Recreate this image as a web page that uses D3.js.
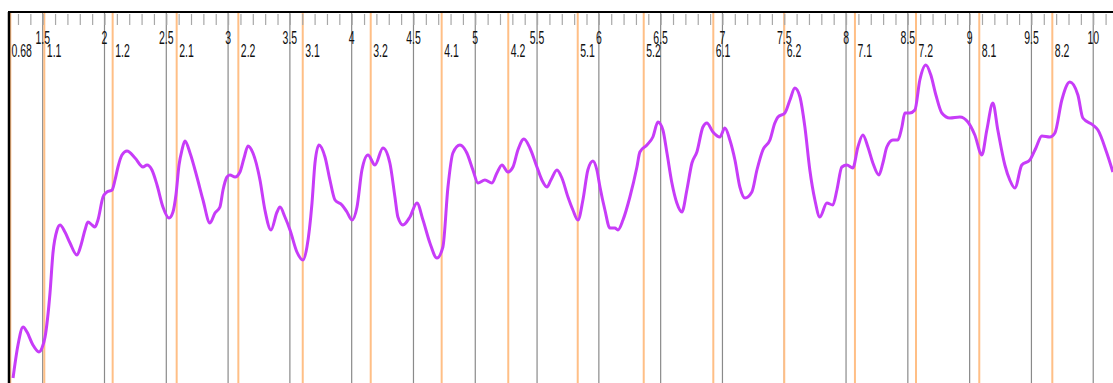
<!DOCTYPE html>
<html>
<head>
<meta charset="utf-8">
<script src="https://cdn.jsdelivr.net/npm/d3@7/dist/d3.min.js"></script>
<style>
  html, body { margin: 0; padding: 0; background: #fff; }
  svg { display: block; }
  text { font-family: "Liberation Sans", Arial, sans-serif; }
</style>
</head>
<body>
<svg id="chart" width="1113" height="383"></svg>
<script>
// Time axis (s): labelled grid lines
const gridTimes  = [1.5, 2, 2.5, 3, 3.5, 4, 4.5, 5, 5.5, 6, 6.5, 7, 7.5, 8, 8.5, 9, 9.5, 10];
const gridLabels = ["1.5","2","2.5","3","3.5","4","4.5","5","5.5","6","6.5","7","7.5","8","8.5","9","9.5","10"];
const startLabel = "0.68";

// Segment boundary markers
const markerTimes  = [1.513, 2.066, 2.584, 3.083, 3.604, 4.154, 4.728, 5.267, 5.829, 6.363, 6.926, 7.500, 8.072, 8.566, 9.078, 9.669];
const markerLabels = ["1.1","1.2","2.1","2.2","3.1","3.2","4.1","4.2","5.1","5.2","6.1","6.2","7.1","7.2","8.1","8.2"];
const edgeMarkers  = [1.238];

// Contour samples: time (s) and value (Hz)
const contourTime = [
  1.260,1.300,1.341,1.373,1.421,1.470,1.494,1.519,1.559,1.583,1.616,1.640,1.680,1.721,1.777,1.810,1.842,1.866,1.899,1.923,
  1.947,1.988,2.020,2.061,2.085,2.109,2.141,2.182,2.247,2.311,2.344,2.384,2.425,2.473,2.522,2.554,2.578,2.603,2.627,2.651,
  2.692,2.748,2.797,2.853,2.894,2.934,2.959,2.991,3.015,3.056,3.096,3.129,3.161,3.201,3.258,3.298,3.347,3.396,3.420,3.460,
  3.501,3.557,3.606,3.638,3.679,3.703,3.735,3.784,3.824,3.865,3.921,3.962,4.002,4.043,4.083,4.132,4.188,4.253,4.309,4.350,
  4.374,4.415,4.471,4.528,4.577,4.633,4.690,4.738,4.779,4.819,4.876,4.932,4.981,5.022,5.078,5.135,5.175,5.216,5.264,5.305,
  5.345,5.394,5.442,5.499,5.539,5.580,5.612,5.661,5.701,5.750,5.790,5.831,5.871,5.911,5.952,5.984,6.009,6.049,6.089,6.130,
  6.154,6.195,6.251,6.308,6.332,6.389,6.437,6.478,6.518,6.551,6.591,6.631,6.672,6.712,6.753,6.793,6.842,6.874,6.923,6.979,
  7.020,7.060,7.101,7.141,7.182,7.238,7.279,7.327,7.384,7.424,7.449,7.505,7.546,7.586,7.627,7.667,7.707,7.748,7.788,7.845,
  7.893,7.926,7.966,8.007,8.055,8.096,8.136,8.177,8.217,8.266,8.298,8.330,8.379,8.419,8.452,8.476,8.516,8.557,8.597,8.646,
  8.686,8.727,8.775,8.840,8.921,8.986,9.042,9.099,9.139,9.188,9.228,9.285,9.325,9.366,9.422,9.487,9.536,9.584,9.649,9.690,
  9.746,9.811,9.876,9.916,9.997,10.038,10.110,10.159
];
const contourValue = [
  102.5,119,128,125.5,119,115.5,117.5,123,145,165,176.5,179,175.5,170,164,169,176.5,180.5,179,178,
  181.5,193,195.5,196.5,201.5,208,214,216,212.5,208,209,206.5,199,188,182.5,185.5,194,209,216.5,221,
  215,203,191.5,180,185,188,196.5,203,204,203,205.5,212.5,218.5,215,201.5,186.5,176.5,185.5,188,183,
  176.5,165.5,161.5,168,190,210,219,213,201.5,191.5,189,185.5,181.5,188,206.5,214,209,217.5,210,193,
  183,179,183,190,181.5,170,162.5,168,198,215,219,215,206.5,200,201.5,200,205,209,205.5,208,
  216.5,222,217.5,208,201.5,198,201.5,206.5,202.5,193,186.5,181.5,191.5,206.5,211,206.5,198,186.5,177.5,177.5,
  176.5,181.5,193,208,215.5,219,223,230.5,226.5,215,200,190,185.5,196.5,210,215.5,228,230,225.5,223,
  227.5,221.5,211.5,198,192.5,195.5,206.5,216.5,221.5,230,233,235,241.5,247.5,243,228,206.5,191.5,183,190,
  189,196.5,208,209,207.5,218,224,218,210,204,210,218,221.5,221.5,228,235,235,236.5,251.5,259,
  254,244,235,232.5,233,230.5,224,214,226.5,240,226.5,209,201.5,197.5,209,211.5,217.5,223.5,223,225,
  241.5,250.5,244,232.5,229,226.5,215,205.5
];

const W = 1113, H = 383;
const plot = { left: 9, top: 12, right: W, bottom: H };

const svg = d3.select("#chart");

const x = d3.scaleLinear().domain([1.2273, 10.16]).range([plot.left, plot.right]);
const y = d3.scaleLinear().domain([100, 285.5]).range([plot.bottom, plot.top]);

svg.append("defs").append("clipPath").attr("id", "plotClip")
  .append("rect")
  .attr("x", plot.left).attr("y", plot.top)
  .attr("width", plot.right - plot.left).attr("height", plot.bottom - plot.top);

// Major grid lines
svg.append("g").selectAll("line").data(gridTimes).join("line")
  .attr("x1", d => x(d)).attr("x2", d => x(d))
  .attr("y1", plot.top).attr("y2", plot.bottom)
  .attr("stroke", "#8a8a8a").attr("stroke-width", 1.2);

// Segment boundaries
svg.append("g").selectAll("line").data(markerTimes.concat(edgeMarkers)).join("line")
  .attr("x1", d => x(d)).attr("x2", d => x(d))
  .attr("y1", plot.top).attr("y2", plot.bottom)
  .attr("stroke", "#ffbf86").attr("stroke-width", 2);

// Minor ticks along the top edge
const tickTimes = d3.range(13, 102).map(i => i / 10);
const topAxis = d3.axisTop(x).tickValues(tickTimes).tickSize(11).tickFormat("");
const axisG = svg.append("g").attr("transform", `translate(0,${plot.top + 13})`).call(topAxis);
axisG.select(".domain").remove();
axisG.selectAll(".tick line").attr("stroke", "#a8a8a8").attr("stroke-width", 1.2);

// Frame
svg.append("line").attr("x1", plot.left - 1).attr("x2", W).attr("y1", plot.top).attr("y2", plot.top)
  .attr("stroke", "#000").attr("stroke-width", 2);
svg.append("line").attr("x1", plot.left).attr("x2", plot.left).attr("y1", plot.top).attr("y2", H)
  .attr("stroke", "#000").attr("stroke-width", 2.5);

// Contour
const pts = contourTime.map((t, i) => [t, contourValue[i]]);
const line = d3.line().x(d => x(d[0])).y(d => y(d[1])).curve(d3.curveMonotoneX);
svg.append("path")
  .attr("clip-path", "url(#plotClip)")
  .attr("d", line(pts))
  .attr("fill", "none")
  .attr("stroke", "#c73cf8")
  .attr("stroke-width", 3)
  .attr("stroke-linejoin", "round");

// Labels (narrow, tall glyphs)
function label(g, tx, ty, txt, anchor) {
  g.append("g").attr("transform", `translate(${tx},${ty}) scale(1,1.7)`)
    .append("text").attr("text-anchor", anchor)
    .attr("font-size", 10.5).attr("fill", "#111").text(txt);
}
const labelsG = svg.append("g");
gridTimes.forEach((t, i) => label(labelsG, x(t), 44, gridLabels[i], "middle"));
markerTimes.forEach((t, i) => label(labelsG, x(t) + 2.5, 56.5, markerLabels[i], "start"));
label(labelsG, x.range()[0] + 2.5, 56.5, startLabel, "start");
</script>
</body>
</html>
